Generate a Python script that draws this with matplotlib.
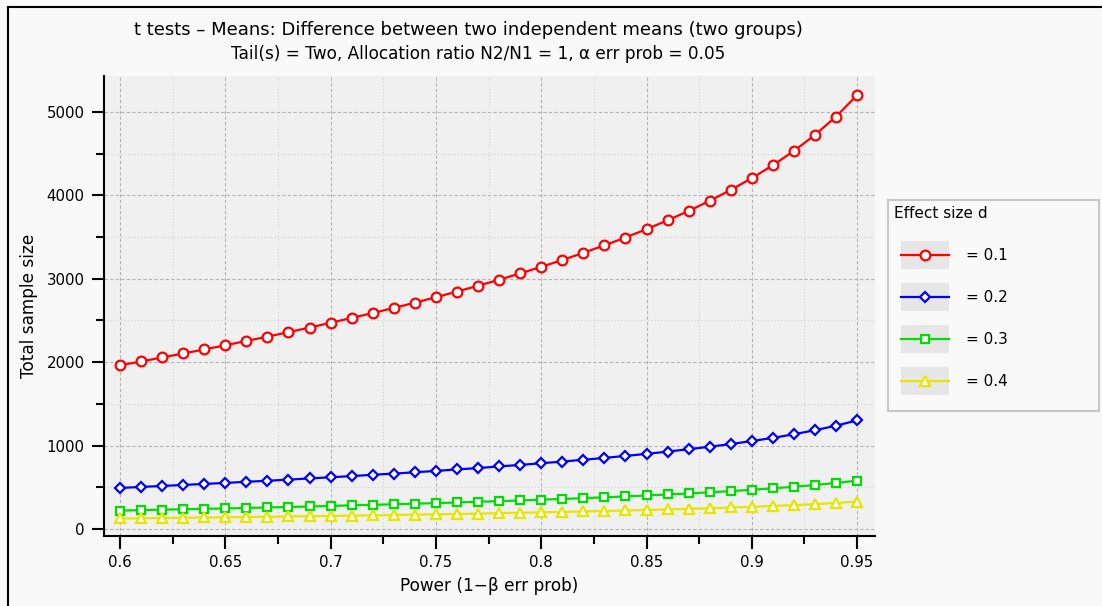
import matplotlib
matplotlib.use("Agg")
import matplotlib.pyplot as plt
from matplotlib.lines import Line2D
from matplotlib.patches import Rectangle
from matplotlib.ticker import MultipleLocator

# power values (x axis)
power = [0.60, 0.61, 0.62, 0.63, 0.64, 0.65, 0.66, 0.67, 0.68, 0.69,
         0.70, 0.71, 0.72, 0.73, 0.74, 0.75, 0.76, 0.77, 0.78, 0.79,
         0.80, 0.81, 0.82, 0.83, 0.84, 0.85, 0.86, 0.87, 0.88, 0.89,
         0.90, 0.91, 0.92, 0.93, 0.94, 0.95]

# total sample size per effect size
n_d01 = [1962, 2008, 2056, 2104, 2152, 2202, 2254, 2306, 2360, 2414,
         2472, 2530, 2588, 2650, 2712, 2778, 2846, 2916, 2988, 3064,
         3142, 3224, 3310, 3400, 3494, 3594, 3700, 3812, 3934, 4064,
         4206, 4360, 4532, 4724, 4944, 5200]
n_d02 = [492, 504, 516, 528, 540, 552, 566, 578, 592, 606,
         620, 634, 650, 664, 680, 696, 714, 730, 750, 768,
         788, 808, 830, 852, 876, 900, 928, 956, 986, 1018,
         1054, 1092, 1136, 1184, 1238, 1302]
n_d03 = [220, 226, 232, 236, 242, 246, 252, 258, 264, 270,
         276, 284, 290, 296, 304, 310, 318, 326, 334, 342,
         352, 360, 370, 380, 390, 402, 414, 426, 440, 454,
         470, 488, 506, 528, 552, 580]
n_d04 = [126, 128, 132, 134, 138, 140, 144, 146, 150, 154,
         156, 160, 164, 168, 172, 176, 180, 184, 190, 194,
         200, 204, 210, 216, 222, 228, 234, 242, 248, 258,
         266, 276, 286, 298, 312, 328]

labels = ["= 0.1", "= 0.2", "= 0.3", "= 0.4"]
colors = ["#ff0000", "#0000ff", "#00dd00", "#e6e600"]
markers = ["o", "D", "s", "^"]
msizes = [7, 5.5, 6, 7]
series = [n_d01, n_d02, n_d03, n_d04]

fig = plt.figure(figsize=(11.02, 6.06), dpi=100)
fig.patch.set_facecolor("#f9f9f9")

# frame lines (left and top)
fig.add_artist(Line2D([8/1102, 8/1102], [0, 1 - 7/606], color="black", lw=1.5))
fig.add_artist(Line2D([8/1102, 1], [1 - 7/606, 1 - 7/606], color="black", lw=1.5))

ax = fig.add_axes([104/1102, 1 - 536/606, 771/1102, 460/606])
ax.set_facecolor("#f0f0f0")

for ys, c, m, ms in zip(series, colors, markers, msizes):
    ax.plot(power, ys, color=c, lw=1.6, marker=m, ms=ms,
            mfc="white", mec=c, mew=1.6, zorder=3)

ax.set_xlim(0.5924, 0.9585)
ax.set_ylim(-84, 5430)
ax.xaxis.set_major_locator(MultipleLocator(0.05))
ax.xaxis.set_minor_locator(MultipleLocator(0.025))
ax.yaxis.set_major_locator(MultipleLocator(1000))
ax.yaxis.set_minor_locator(MultipleLocator(500))
ax.set_xticks([0.6, 0.65, 0.7, 0.75, 0.8, 0.85, 0.9, 0.95])
ax.set_xticklabels(["0.6", "0.65", "0.7", "0.75", "0.8", "0.85", "0.9", "0.95"])
ax.set_yticks([0, 1000, 2000, 3000, 4000, 5000])
ax.set_yticklabels(["0", "1000", "2000", "3000", "4000", "5000"])

ax.grid(which="major", color="#b4b4b4", ls=(0, (3, 2)), lw=0.8)
ax.grid(which="minor", color="#d0d0d0", ls=(0, (1, 2)), lw=0.8)
ax.set_axisbelow(True)

for s in ["top", "right"]:
    ax.spines[s].set_visible(False)
ax.spines["left"].set_linewidth(1.5)
ax.spines["bottom"].set_linewidth(1.5)
ax.tick_params(which="major", direction="out", length=9, width=1.5, labelsize=10.8, pad=5)
ax.tick_params(which="minor", direction="out", length=6, width=1.5)

ax.set_xlabel("Power (1\u2212\u03b2 err prob)", fontsize=12.2, labelpad=5)
ax.set_ylabel("Total sample size", fontsize=12.2, labelpad=6)

fig.text(468/1102, 1 - 30/606, "t tests \u2013 Means: Difference between two independent means (two groups)",
         ha="center", va="center", fontsize=13)
fig.text(478/1102, 1 - 54/606, "Tail(s) = Two, Allocation ratio N2/N1 = 1, \u03b1 err prob = 0.05",
         ha="center", va="center", fontsize=12.2)

# legend drawn as its own small panel
lg = fig.add_axes([888/1102, 1 - 411/606, 211/1102, 211/606])
lg.set_xlim(0, 211)
lg.set_ylim(211, 0)
lg.set_facecolor("#f9f9f9")
for s in lg.spines.values():
    s.set_color("#c8c8c8")
    s.set_linewidth(1.5)
lg.set_xticks([])
lg.set_yticks([])
lg.text(6, 14, "Effect size d", fontsize=11, va="center", ha="left")
row_y = [55, 97, 139, 181]
for yy, c, m, ms, lab in zip(row_y, colors, markers, msizes, labels):
    lg.add_patch(Rectangle((13, yy - 14), 48, 28, color="#e6e6e6", lw=0))
    lg.plot([13, 61], [yy, yy], color=c, lw=1.6, zorder=3)
    lg.plot([37], [yy], color=c, marker=m, ms=ms, mfc="white", mec=c, mew=1.6, zorder=4)
    lg.text(78, yy + 1, lab, fontsize=11, va="center", ha="left")

fig.savefig("out.png", dpi=100, facecolor=fig.get_facecolor())
